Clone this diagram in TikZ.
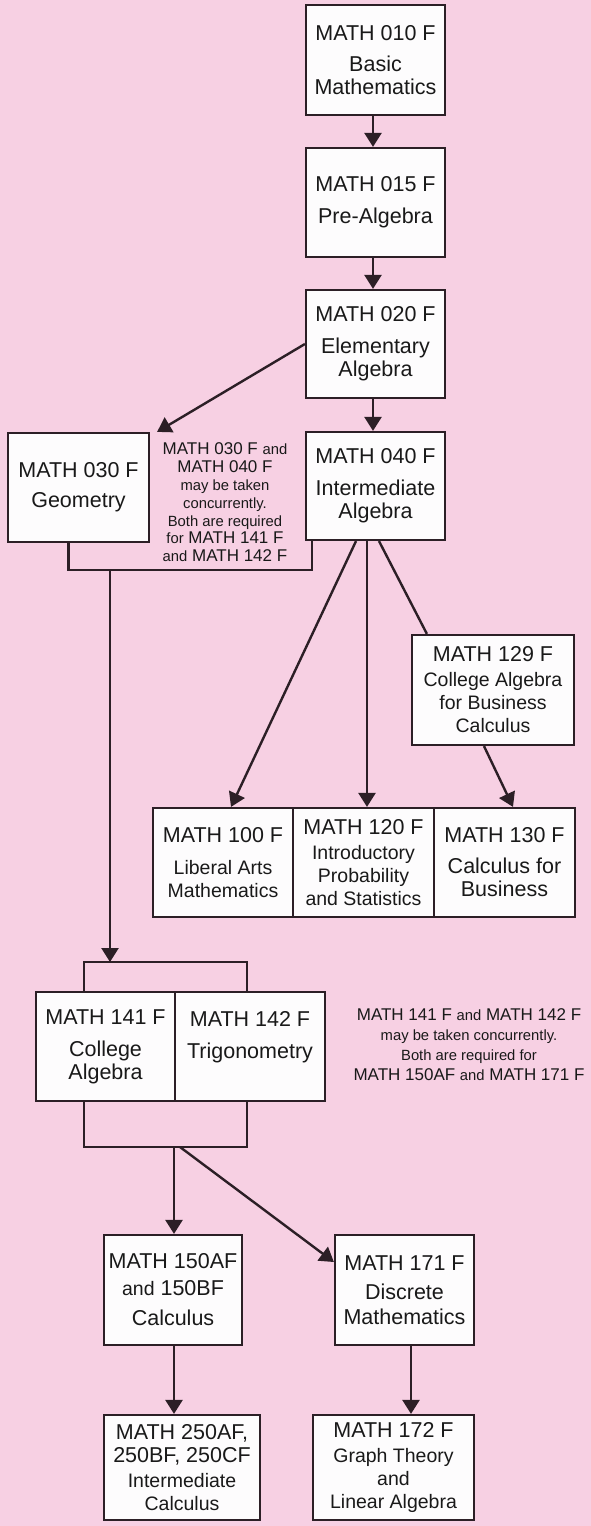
\documentclass[tikz,border=0pt]{standalone}
\usepackage{fontspec}
\setmainfont{Liberation Sans}
\usetikzlibrary{arrows.meta,shadows}
\definecolor{bgpink}{RGB}{247,208,227}
\definecolor{ink}{RGB}{44,31,38}
\definecolor{boxfill}{RGB}{253,252,253}
\newcommand\ftT{\fontsize{21.5}{23}\selectfont}
\newcommand\ftS{\fontsize{19.5}{23}\selectfont}
\newcommand\ftn{\fontsize{14.8}{17}\selectfont}
\begin{document}
\begin{tikzpicture}[x=1pt,y=-1pt,
  box/.style={draw=ink, line width=2.2pt, fill=boxfill, align=center, inner sep=0pt, font=\ftT, text=black!90,
    drop shadow={shadow xshift=1.4pt, shadow yshift=-1.4pt, fill=ink, opacity=0.85}},
  conn/.style={draw=ink, line width=2.4pt},
  arr/.style={conn, -{Triangle[width=17pt,length=14pt]}},
  note/.style={align=center, inner sep=0pt, text=black!90}]
\fill[bgpink] (0,0) rectangle (591,1526);
\useasboundingbox (0,0) rectangle (591,1526);

\node[box, minimum width=139pt, minimum height=110pt] (b010) at (375.5,60) {MATH 010 F\\[8pt]Basic\\Mathematics};
\node[box, minimum width=139pt, minimum height=109pt] (b015) at (375.5,202.5) {MATH 015 F\\[9pt]Pre-Algebra};
\node[box, minimum width=139pt, minimum height=108pt] (b020) at (375.5,344) {MATH 020 F\\[9pt]Elementary\\Algebra};
\node[box, minimum width=139pt, minimum height=108pt] (b040) at (375.5,486) {MATH 040 F\\[9pt]Intermediate\\Algebra};
\node[box, minimum width=141pt, minimum height=109pt] (b030) at (78.5,487.5) {MATH 030 F\\[7pt]Geometry};
\node[box, minimum width=162pt, minimum height=110pt] (b129) at (493,690) {MATH 129 F\\[2pt]{\ftS College Algebra}\\{\ftS for Business}\\{\ftS Calculus}};
\node[box, minimum width=140pt, minimum height=109pt] (b100) at (223,862.5) {MATH 100 F\\[9pt]{\ftS Liberal Arts}\\{\ftS Mathematics}};
\node[box, minimum width=141pt, minimum height=109pt] (b120) at (363.5,862.5) {MATH 120 F\\[2pt]{\ftS Introductory}\\{\ftS Probability}\\{\ftS and Statistics}};
\node[box, minimum width=141pt, minimum height=109pt] (b130) at (504.5,862.5) {MATH 130 F\\[8pt]Calculus for\\Business};
\node[box, minimum width=139pt, minimum height=109pt] (b141) at (105.5,1046.5) {MATH 141 F\\[9pt]College\\Algebra};
\node[box, minimum width=150pt, minimum height=109pt] (b142) at (250,1046.5) {MATH 142 F\\[9pt]Trigonometry\\\phantom{A}};
\node[box, minimum width=138pt, minimum height=110pt] (b150) at (173,1290) {MATH 150AF\\[4pt]{\ftS and} 150BF\\[7pt]Calculus};
\node[box, minimum width=139pt, minimum height=110pt] (b171) at (404.5,1290) {MATH 171 F\\[6pt]Discrete\\[2pt]Mathematics};
\node[box, minimum width=156pt, minimum height=105pt] (b250) at (182,1467.5) {MATH 250AF,\\250BF, 250CF\\[2pt]{\ftS Intermediate}\\{\ftS Calculus}};
\node[box, minimum width=161pt, minimum height=105pt] (b172) at (393.5,1467.5) {MATH 172 F\\[2pt]{\ftS Graph Theory}\\{\ftS and}\\{\ftS Linear Algebra}};

\node[note, font=\fontsize{17}{17.8}\selectfont] (n1) at (225,502.5) {MATH 030 F {\ftn and}\\MATH 040 F\\{\ftn may be taken}\\{\ftn concurrently.}\\{\ftn Both are required}\\{\ftn for} MATH 141 F\\{\ftn and} MATH 142 F};
\node[note, font=\fontsize{17}{20}\selectfont] (n2) at (469,1045) {MATH 141 F {\ftn and} MATH 142 F\\{\ftn may be taken concurrently.}\\{\ftn Both are required for}\\MATH 150AF {\ftn and} MATH 171 F};

\coordinate (j1) at (110,570);
\coordinate (j2) at (110,962);
\coordinate (j3) at (174,1147);

\draw[arr] ([xshift=-2.5pt]b010.south) -- ([xshift=-2.5pt]b015.north);
\draw[arr] ([xshift=-2.5pt]b015.south) -- ([xshift=-2.5pt]b020.north);
\draw[arr] ([xshift=-2.5pt]b020.south) -- ([xshift=-2.5pt]b040.north);
\draw[arr] (b020.west) -- ([xshift=7pt]b030.north east);
\draw[conn] ([xshift=-10pt]b030.south) |- (j1) -| ([xshift=-63.5pt]b040.south);
\draw[arr] (j1) -- (j2);
\draw[conn] ([xshift=-21.5pt]b141.north) |- (j2) -| ([xshift=-3pt]b142.north);
\draw[conn] ([xshift=-21.5pt]b141.south) |- (j3) -| ([xshift=-3pt]b142.south);
\draw[arr] (j3) -- ([xshift=1pt]b150.north);
\draw[arr] ([xshift=6pt]j3) -- ([yshift=28pt]b171.west);
\draw[arr] ([xshift=-19.5pt]b040.south) -- ([xshift=8pt]b100.north);
\draw[arr] ([xshift=-8.5pt]b040.south) -- ([xshift=3.5pt]b120.north);
\draw[conn] ([xshift=3.5pt]b040.south) -- ([xshift=16pt]b129.north west);
\draw[arr] ([xshift=-9pt]b129.south) -- ([xshift=8.5pt]b130.north);
\draw[arr] ([xshift=1pt]b150.south) -- ([xshift=-8pt]b250.north);
\draw[arr] ([xshift=6.5pt]b171.south) -- ([xshift=17.5pt]b172.north);
\end{tikzpicture}
\end{document}
